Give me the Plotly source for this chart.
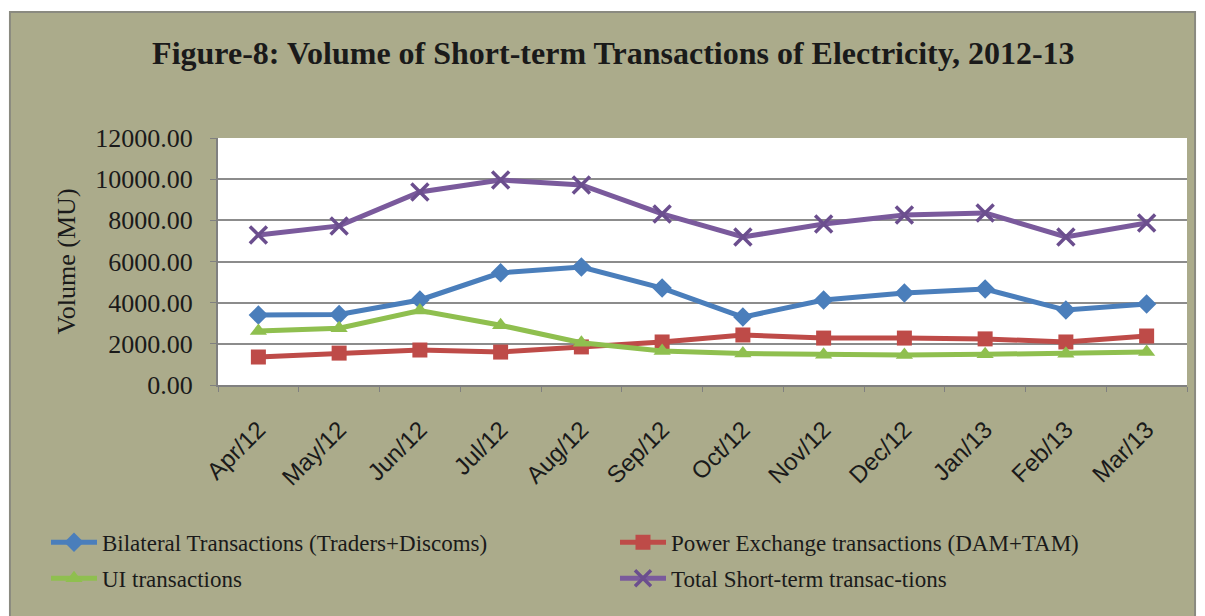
import plotly.graph_objects as go

months = ["Apr/12", "May/12", "Jun/12", "Jul/12", "Aug/12", "Sep/12",
          "Oct/12", "Nov/12", "Dec/12", "Jan/13", "Feb/13", "Mar/13"]

bilateral = [3400, 3430, 4130, 5450, 5730, 4710, 3300, 4130, 4470, 4660, 3640, 3930]
power_exchange = [1360, 1550, 1700, 1600, 1850, 2090, 2430, 2280, 2280, 2240, 2090, 2380]
ui = [2620, 2760, 3620, 2900, 2050, 1650, 1530, 1470, 1460, 1490, 1520, 1600]
total = [7290, 7730, 9380, 9960, 9720, 8310, 7190, 7820, 8260, 8360, 7190, 7870]

y_ticks = [0, 2000, 4000, 6000, 8000, 10000, 12000]

SERIF = "Liberation Serif, Times New Roman, serif"
SANS = "Liberation Sans, Arial, sans-serif"
FRAME_BG = "#abab8b"
TEXT = "#1a1a1a"

series = [
    ("Bilateral Transactions (Traders+Discoms)", bilateral, "#4a7ebb",
     dict(symbol="diamond", size=15), "legend", "g1"),
    ("Power Exchange transactions (DAM+TAM)", power_exchange, "#be4b48",
     dict(symbol="square", size=15), "legend2", "g1"),
    ("UI transactions", ui, "#8fbf4f",
     dict(symbol="triangle-up", size=15), "legend", "g2"),
    ("Total Short-term transac-tions", total, "#7a5a9c",
     dict(symbol="x-thin", size=17, line=dict(width=3.5, color="#6b4e8e")), "legend2", "g2"),
]

fig = go.Figure()
for name, vals, color, marker, leg, grp in series:
    m = dict(color=color, **marker)
    fig.add_trace(go.Scatter(
        x=months, y=vals, name=name, mode="lines+markers",
        line=dict(color=color, width=5),
        marker=m, legend=leg, legendgroup=grp,
    ))

legend_common = dict(
    xanchor="left", y=-0.55, yanchor="top",
    orientation="v", bgcolor="rgba(0,0,0,0)", tracegroupgap=3,
    font=dict(family=SERIF, size=23, color=TEXT),
    itemwidth=46,
)

fig.update_layout(
    width=1205, height=616,
    margin=dict(l=218, r=18, t=138, b=231, autoexpand=False),
    paper_bgcolor="white",
    plot_bgcolor="rgba(0,0,0,0)",
    title=dict(
        text="<b>Figure-8: Volume of Short-term Transactions of Electricity, 2012-13</b>",
        font=dict(family=SERIF, size=32, color=TEXT),
        x=0.509, xanchor="center", y=0.915, yanchor="middle",
    ),
    font=dict(family=SERIF, color=TEXT),
    shapes=[
        # outer chart frame
        dict(type="rect", xref="paper", yref="paper", layer="below",
             x0=-0.2147, x1=1.0083, y0=-1.2, y1=1.510,
             fillcolor=FRAME_BG, line=dict(color="#8a8a80", width=2)),
        # plot area
        dict(type="rect", xref="paper", yref="paper", layer="below",
             x0=0, x1=1, y0=0, y1=1,
             fillcolor="white", line=dict(width=0)),
    ],
    xaxis=dict(
        type="category", tickson="boundaries", tickangle=-45,
        ticks="outside", ticklen=5, tickcolor="#808080",
        showline=True, linecolor="#808080", linewidth=2,
        showgrid=False, range=[-0.5, 11.5], automargin=False,
        tickfont=dict(family=SANS, size=24, color=TEXT),
        ticklabelstandoff=19,
    ),
    yaxis=dict(
        range=[0, 12000], tickvals=y_ticks,
        ticktext=[f"{v:.2f}" for v in y_ticks],
        ticks="outside", ticklen=6, tickcolor="#808080",
        showline=True, linecolor="#808080", linewidth=2,
        showgrid=True, gridcolor="#8c8c8c", gridwidth=2,
        zeroline=False, automargin=False,
        tickfont=dict(family=SERIF, size=26, color=TEXT),
        ticklabelstandoff=12,
        title=dict(text="Volume (MU)", font=dict(family=SERIF, size=26, color=TEXT),
                   standoff=12),
    ),
    legend=dict(x=-0.1775, **legend_common),
    legend2=dict(x=0.4097, **legend_common),
)

fig.write_html("out.html")
